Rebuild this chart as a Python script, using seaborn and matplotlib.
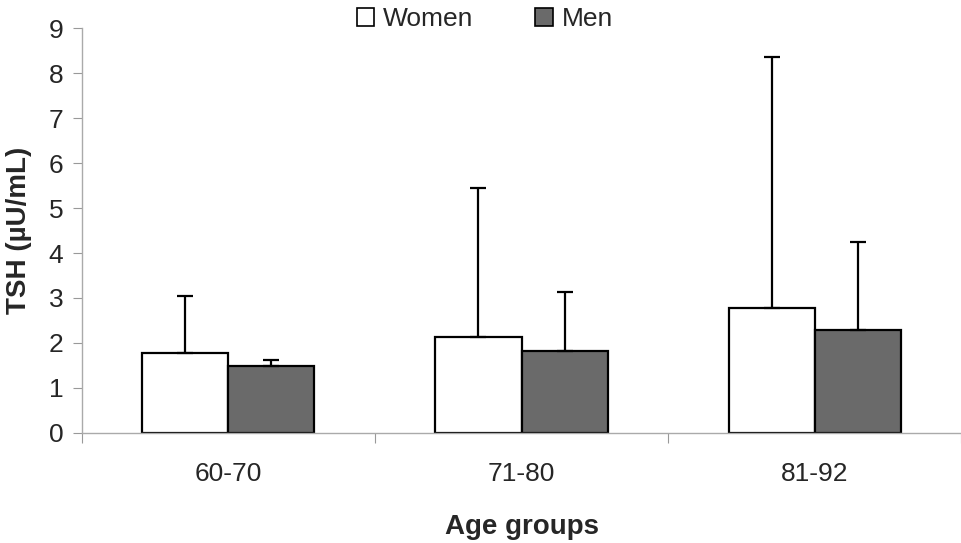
import numpy as np
import pandas as pd
import matplotlib
matplotlib.use("Agg")
import matplotlib.pyplot as plt
import seaborn as sns
from matplotlib.patches import Patch

# ---- data ----
age_groups = ["60-70", "71-80", "81-92"]
women_mean = [1.78, 2.13, 2.78]
women_sd = [1.26, 3.31, 5.58]
men_mean = [1.49, 1.82, 2.29]
men_sd = [0.13, 1.31, 1.95]

df = pd.DataFrame({
    "age": age_groups * 2,
    "sex": ["Women"] * 3 + ["Men"] * 3,
    "tsh": women_mean + men_mean,
    "sd": women_sd + men_sd,
})

sns.set_style("white")
plt.rcParams["font.family"] = ["Liberation Sans", "DejaVu Sans"]

fig = plt.figure(figsize=(9.62, 5.43), dpi=100)
ax = fig.add_axes([0.0852, 0.2026, 0.9138, 0.7458])

palette = {"Women": "white", "Men": "#6a6a6a"}
sns.barplot(data=df, x="age", y="tsh", hue="sex", palette=palette,
            width=0.587, edgecolor="black", linewidth=1.6, errorbar=None,
            saturation=1, ax=ax, legend=False)

# ---- upper-only error bars at each bar centre ----
for patch, (_, row) in zip(ax.patches, df.iterrows()):
    xc = patch.get_x() + patch.get_width() / 2
    ax.errorbar(xc, row["tsh"], yerr=[[0], [row["sd"]]], fmt="none",
                ecolor="black", elinewidth=1.6, capsize=6, capthick=1.6,
                zorder=1)

ax.set_ylim(0, 9)
ax.set_xlim(-0.5, 2.5)
ax.set_yticks(range(0, 10))
ax.tick_params(axis="y", labelsize=19, length=6.5, width=0.8, color="#999999",
               left=True, pad=7)
ax.set_xticks([0, 1, 2])
ax.set_xticks([-0.5, 0.5, 1.5, 2.5], minor=True)
ax.tick_params(axis="x", which="major", length=0, labelsize=19, pad=21)
ax.tick_params(axis="x", which="minor", length=7, width=0.8, color="#999999",
               bottom=True)

for side in ["top", "right"]:
    ax.spines[side].set_visible(False)
for side in ["left", "bottom"]:
    ax.spines[side].set_color("#aaaaaa")
    ax.spines[side].set_linewidth(1.0)

ax.set_xlabel("Age groups", fontsize=20, fontweight="bold", labelpad=20)
ax.set_ylabel("TSH (µU/mL)", fontsize=20, fontweight="bold", labelpad=12)

handles = [Patch(facecolor="white", edgecolor="black", linewidth=1.2, label="Women"),
           Patch(facecolor="#6a6a6a", edgecolor="black", linewidth=1.2, label="Men")]
fig.legend(handles=handles, loc="upper center", bbox_to_anchor=(0.504, 1.03),
           ncol=2, frameon=False, fontsize=19, handlelength=0.65, handleheight=0.65,
           handletextpad=0.35, columnspacing=2.35)

fig.savefig("out.png", dpi=100)
